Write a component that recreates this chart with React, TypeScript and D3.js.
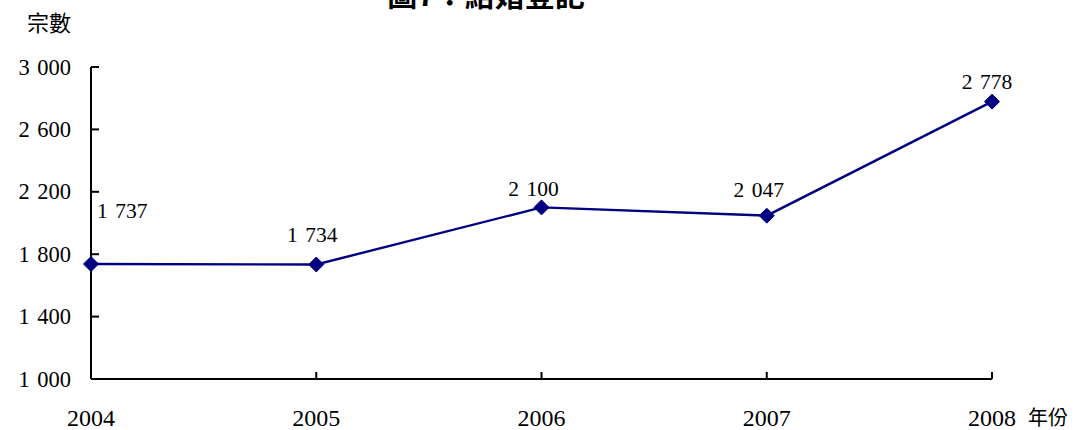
import React from "react";
import * as d3 from "d3";

const years: string[] = ["2004", "2005", "2006", "2007", "2008"];
const registrations: number[] = [1737, 1734, 2100, 2047, 2778];
const yTicks: number[] = [1000, 1400, 1800, 2200, 2600, 3000];
const title = "圖7：結婚登記";
const yAxisTitle = "宗數";
const xAxisTitle = "年份";

// label placement (dx, dy relative to point, anchor)
const labelPlacement: { dx: number; dy: number; anchor: "start" | "middle" }[] = [
  { dx: 6, dy: -46, anchor: "start" },
  { dx: -4, dy: -22, anchor: "middle" },
  { dx: -8, dy: -11, anchor: "middle" },
  { dx: -8, dy: -19, anchor: "middle" },
  { dx: -5, dy: -13, anchor: "middle" },
];

const fmt = (v: number) => {
  const s = String(v);
  return s.length > 3 ? s.slice(0, s.length - 3) + " " + s.slice(-3) : s;
};

export default function App() {
  const W = 1078;
  const H = 430;
  const x = d3.scalePoint<string>().domain(years).range([91, 992]);
  const y = d3.scaleLinear().domain([1000, 3000]).range([379, 67]);
  const line = d3
    .line<number>()
    .x((_, i) => x(years[i]) as number)
    .y((d) => y(d));
  const serif = "Liberation Serif";
  const cjk = "Noto Sans CJK TC";
  const navy = "#000080";
  const serifStyle = { fontFamily: serif, wordSpacing: "2px" } as React.CSSProperties;

  return (
    <svg
      width={W}
      height={H}
      style={{ position: "absolute", left: 0, top: 0, background: "#fff" }}
    >
      <text
        x={486}
        y={6}
        textAnchor="middle"
        style={{ fontFamily: cjk }}
        fontWeight="bold"
        fontSize={30}
        fill="#000"
      >
        {title}
      </text>
      <text x={49} y={31} textAnchor="middle" style={{ fontFamily: cjk }} fontSize={22} fill="#000">
        {yAxisTitle}
      </text>

      {/* Y axis */}
      <line x1={91} x2={91} y1={y(3000)} y2={y(1000)} stroke="#000" strokeWidth={2} />
      {yTicks.map((t) => (
        <g key={t}>
          <line x1={91} x2={99} y1={y(t)} y2={y(t)} stroke="#000" strokeWidth={2} />
          <text
            x={71}
            y={y(t) + 7.5}
            textAnchor="end"
            style={serifStyle}
            fontSize={22.5}
            fill="#000"
          >
            {fmt(t)}
          </text>
        </g>
      ))}

      {/* X axis */}
      <line x1={91} x2={992} y1={379} y2={379} stroke="#000" strokeWidth={2} />
      {years.map((yr) => (
        <g key={yr}>
          <line
            x1={x(yr) as number}
            x2={x(yr) as number}
            y1={379}
            y2={372}
            stroke="#000"
            strokeWidth={2}
          />
          <text
            x={x(yr) as number}
            y={426}
            textAnchor="middle"
            style={serifStyle}
            fontSize={24}
            fill="#000"
          >
            {yr}
          </text>
        </g>
      ))}
      <text x={1028} y={425} style={{ fontFamily: cjk }} fontSize={20} fill="#000">
        {xAxisTitle}
      </text>

      {/* Line */}
      <path d={line(registrations) || ""} fill="none" stroke={navy} strokeWidth={2.4} />
      {registrations.map((v, i) => {
        const px = x(years[i]) as number;
        const py = y(v);
        const r = 7.5;
        return (
          <path
            key={i}
            d={`M${px},${py - r}L${px + r},${py}L${px},${py + r}L${px - r},${py}Z`}
            fill={navy}
            stroke={navy}
            strokeWidth={1}
          />
        );
      })}
      {registrations.map((v, i) => {
        const p = labelPlacement[i];
        return (
          <text
            key={i}
            x={(x(years[i]) as number) + p.dx}
            y={y(v) + p.dy}
            textAnchor={p.anchor}
            style={serifStyle}
            fontSize={21.5}
            fill="#000"
          >
            {fmt(v)}
          </text>
        );
      })}
    </svg>
  );
}
